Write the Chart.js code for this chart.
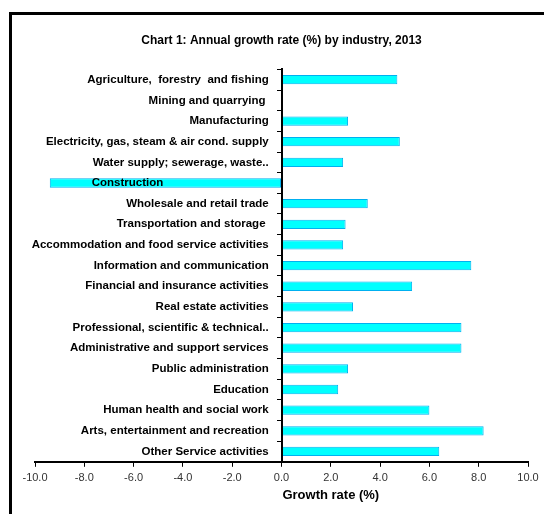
<!DOCTYPE html>
<html>
<head>
<meta charset="utf-8">
<script src="https://cdn.jsdelivr.net/npm/chart.js@4/dist/chart.umd.min.js"></script>
<style>
    html, body { margin: 0; padding: 0; background: #fff; overflow: hidden; }
    #frame {
        position: absolute; left: 9px; top: 12px; width: 700px; height: 700px;
        border-left: 3px solid #000; border-top: 3px solid #000;
    }
    #wrap { position: absolute; left: 0; top: 0; width: 544px; height: 514px; }
</style>
</head>
<body>
<div id="frame"></div>
<div id="wrap"><canvas id="growthChart"></canvas></div>
<script>
// Datos del gráfico
const industries = [
    'Agriculture,  forestry  and fishing',
    'Mining and quarrying ',
    'Manufacturing',
    'Electricity, gas, steam & air cond. supply',
    'Water supply; sewerage, waste..',
    'Construction',
    'Wholesale and retail trade',
    'Transportation and storage ',
    'Accommodation and food service activities',
    'Information and communication',
    'Financial and insurance activities',
    'Real estate activities',
    'Professional, scientific & technical..',
    'Administrative and support services',
    'Public administration',
    'Education',
    'Human health and social work',
    'Arts, entertainment and recreation',
    'Other Service activities'
];
const growthRates = [4.7, 0.0, 2.7, 4.8, 2.5, -9.4, 3.5, 2.6, 2.5, 7.7, 5.3, 2.9, 7.3, 7.3, 2.7, 2.3, 6.0, 8.2, 6.4];
const xMin = -10;
const xMax = 10;
const xStep = 2;

const chartTitle = 'Chart 1: Annual growth rate (%) by industry, 2013';
const xAxisTitle = 'Growth rate (%)';

const fontFamily = '"Liberation Sans", Arial, sans-serif';

// título del eje X, un poco a la derecha como en el original
const axisTitlePlugin = {
    id: 'axisTitle',
    afterDraw(chart) {
        const { ctx, scales: { x } } = chart;
        ctx.save();
        ctx.font = 'bold 13px ' + fontFamily;
        ctx.fillStyle = '#000';
        ctx.textAlign = 'center';
        ctx.textBaseline = 'middle';
        ctx.fillText(xAxisTitle, x.getPixelForValue(2), 495);
        ctx.restore();
    }
};

new Chart(document.getElementById('growthChart'), {
    type: 'bar',
    data: {
        labels: industries,
        datasets: [{
            data: growthRates,
            backgroundColor: '#00FFFF',
            borderColor: '#00B0F0',
            borderWidth: 1,
            borderSkipped: false,
            barPercentage: 0.45,
            categoryPercentage: 1
        }]
    },
    plugins: [axisTitlePlugin],
    options: {
        indexAxis: 'y',
        devicePixelRatio: 1,
        animation: false,
        responsive: true,
        maintainAspectRatio: false,
        layout: {
            padding: { left: 35, right: 16, bottom: 24 }
        },
        plugins: {
            legend: { display: false },
            tooltip: { enabled: false },
            title: {
                display: true,
                text: chartTitle,
                color: '#000',
                font: { family: fontFamily, size: 12, weight: 'bold' },
                padding: { top: 33, bottom: 22 }
            }
        },
        scales: {
            x: {
                min: xMin,
                max: xMax,
                grid: {
                    drawOnChartArea: false,
                    tickLength: 5,
                    color: '#000'
                },
                border: { color: '#000', width: 2 },
                ticks: {
                    stepSize: xStep,
                    maxRotation: 0,
                    padding: 5,
                    color: '#333',
                    font: { family: fontFamily, size: 11 },
                    callback: (value) => Number(value).toFixed(1)
                }
            },
            y: {
                position: { x: 0 },
                offset: true,
                grid: {
                    offset: true,
                    drawOnChartArea: false,
                    tickLength: 4,
                    color: '#000'
                },
                border: { color: '#000', width: 2, z: 1 },
                ticks: {
                    z: 1,
                    autoSkip: false,
                    color: '#000',
                    font: { family: fontFamily, size: 11.5, weight: 'bold' },
                    callback: function (value) {
                        const label = this.getLabelForValue(value);
                        // el eje en x=0 no aplica padding: se separa con espacios
                        // y "Construction" queda más a la izquierda como en el original
                        const pad = label === 'Construction' ? 37 : 4;
                        return label + ' '.repeat(pad);
                    }
                }
            }
        }
    }
});
</script>
</body>
</html>
